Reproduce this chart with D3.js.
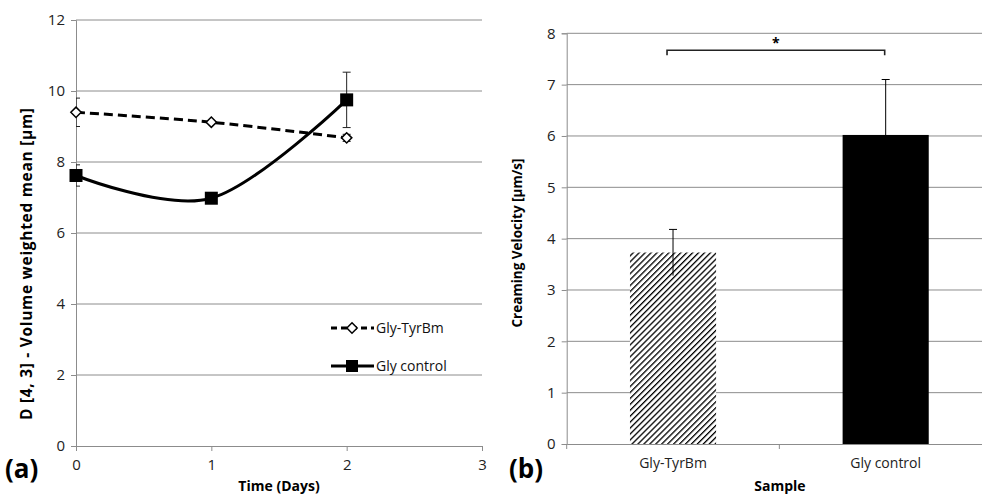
<!DOCTYPE html>
<html>
<head>
<meta charset="utf-8">
<script src="https://cdn.jsdelivr.net/npm/d3@7"></script>
<style>
  body { margin: 0; background: #fff; }
  svg { display: block; font-family: "Open Sans", "Liberation Sans", sans-serif; }
</style>
</head>
<body>
<div id="chart"></div>
<script>
// panel (a) data
const days = [0, 1, 2];
const tyrMean = [9.4, 9.12, 8.68];
const tyrErr = [0.4, 0.03, 0.1];
const ctrlMean = [7.62, 6.98, 9.75];
const ctrlErr = [0.3, 0.03, 0.78];
const aTicksY = [0, 2, 4, 6, 8, 10, 12];
const aTicksX = [0, 1, 2, 3];

// panel (b) data
const samples = ["Gly-TyrBm", "Gly control"];
const velocity = [3.73, 6.02];
const velocityErr = [0.45, 1.08];
const bTicksY = [0, 1, 2, 3, 4, 5, 6, 7, 8];
const sigLevel = 7.67;

const W = 982, H = 494;
const svg = d3.select("#chart").append("svg")
    .attr("width", W).attr("height", H);

const defs = svg.append("defs");
const hatch = defs.append("pattern")
    .attr("id", "hatch")
    .attr("patternUnits", "userSpaceOnUse")
    .attr("width", 4.2).attr("height", 4.2)
    .attr("patternTransform", "rotate(45)");
hatch.append("rect").attr("width", 4.2).attr("height", 4.2).attr("fill", "#fff");
hatch.append("line")
    .attr("x1", 0).attr("y1", 0).attr("x2", 0).attr("y2", 4.2)
    .attr("stroke", "#000").attr("stroke-width", 2.6);

const gridColor = "#8c8c8c";
const tickFont = 15;
const titleFont = 14;

// ---------- panel (a) ----------
const ax = d3.scaleLinear().domain([0, 3]).range([76, 482]);
const ay = d3.scaleLinear().domain([0, 12]).range([446, 20]);

defs.append("clipPath").attr("id", "clipA")
    .append("rect").attr("x", 76).attr("y", 0).attr("width", 420).attr("height", 446);

const a = svg.append("g");

a.append("g").selectAll("line")
    .data(aTicksY.filter(d => d > 0))
    .enter().append("line")
    .attr("x1", ax(0)).attr("x2", ax(3))
    .attr("y1", d => ay(d)).attr("y2", d => ay(d))
    .attr("stroke", gridColor).attr("stroke-width", 1);

const aYAxis = a.append("g")
    .attr("transform", `translate(${ax(0)},0)`)
    .call(d3.axisLeft(ay).tickValues(aTicksY).tickFormat(d3.format("d")).tickSize(5).tickPadding(6));
const aXAxis = a.append("g")
    .attr("transform", `translate(0,${ay(0)})`)
    .call(d3.axisBottom(ax).tickValues(aTicksX).tickFormat(d3.format("d")).tickSize(5).tickPadding(6));

[aYAxis, aXAxis].forEach(g => {
    g.select(".domain").attr("stroke", gridColor);
    g.selectAll(".tick line").attr("stroke", gridColor);
    g.selectAll(".tick text").attr("font-size", tickFont).attr("fill", "#222")
        .attr("font-family", "Open Sans, sans-serif");
});
aXAxis.selectAll(".tick text").attr("dy", "0.85em");

const tyrPts = days.map((d, i) => ({ x: d, y: tyrMean[i], e: tyrErr[i] }));
const ctrlPts = days.map((d, i) => ({ x: d, y: ctrlMean[i], e: ctrlErr[i] }));

const line = d3.line()
    .x(d => ax(d.x)).y(d => ay(d.y))
    .curve(d3.curveCatmullRom.alpha(0));

function errorBars(pts) {
    const g = a.append("g").attr("clip-path", "url(#clipA)");
    const eb = g.selectAll("g").data(pts).enter().append("g");
    eb.append("line")
        .attr("x1", d => ax(d.x)).attr("x2", d => ax(d.x))
        .attr("y1", d => ay(d.y - d.e)).attr("y2", d => ay(d.y + d.e))
        .attr("stroke", "#222").attr("stroke-width", 1);
    [-1, 1].forEach(s => {
        eb.append("line")
            .attr("x1", d => ax(d.x) - 4).attr("x2", d => ax(d.x) + 4)
            .attr("y1", d => ay(d.y + s * d.e)).attr("y2", d => ay(d.y + s * d.e))
            .attr("stroke", "#222").attr("stroke-width", 1);
    });
}
errorBars(tyrPts);
errorBars(ctrlPts);

a.append("path").datum(tyrPts)
    .attr("d", line).attr("fill", "none")
    .attr("stroke", "#000").attr("stroke-width", 3)
    .attr("stroke-dasharray", "9,5");
a.append("path").datum(ctrlPts)
    .attr("d", line).attr("fill", "none")
    .attr("stroke", "#000").attr("stroke-width", 3);

const diamond = d3.symbol().type(d3.symbolDiamond2).size(68);
a.selectAll(".tyr").data(tyrPts).enter().append("path")
    .attr("transform", d => `translate(${ax(d.x)},${ay(d.y)})`)
    .attr("d", diamond)
    .attr("fill", "#fff").attr("stroke", "#000").attr("stroke-width", 1.5);
a.selectAll(".ctrl").data(ctrlPts).enter().append("rect")
    .attr("x", d => ax(d.x) - 6.5).attr("y", d => ay(d.y) - 6.5)
    .attr("width", 13).attr("height", 13).attr("fill", "#000");

// legend
const leg = a.append("g").attr("transform", "translate(331,0)");
leg.append("line").attr("x1", 0).attr("x2", 43).attr("y1", 328).attr("y2", 328)
    .attr("stroke", "#000").attr("stroke-width", 3).attr("stroke-dasharray", "6,4");
leg.append("path").attr("transform", "translate(21,328)").attr("d", diamond)
    .attr("fill", "#fff").attr("stroke", "#000").attr("stroke-width", 1.5);
leg.append("text").attr("x", 45).attr("y", 333).text("Gly-TyrBm")
    .attr("font-size", 14).attr("fill", "#111");
leg.append("line").attr("x1", 0).attr("x2", 43).attr("y1", 366).attr("y2", 366)
    .attr("stroke", "#000").attr("stroke-width", 3);
leg.append("rect").attr("x", 15).attr("y", 360).attr("width", 12).attr("height", 12).attr("fill", "#000");
leg.append("text").attr("x", 45).attr("y", 371).text("Gly control")
    .attr("font-size", 14).attr("fill", "#111");

a.append("text")
    .attr("transform", "translate(32,264) rotate(-90)")
    .attr("text-anchor", "middle")
    .attr("font-size", 15.5).attr("font-weight", "bold")
    .attr("textLength", 312).attr("lengthAdjust", "spacing")
    .text("D [4, 3] - Volume weighted mean [µm]");
a.append("text")
    .attr("x", 279).attr("y", 491)
    .attr("text-anchor", "middle")
    .attr("font-size", titleFont).attr("font-weight", "bold")
    .text("Time (Days)");
a.append("text")
    .attr("x", 5).attr("y", 478)
    .attr("font-size", 26).attr("font-weight", "bold")
    .text("(a)");

// ---------- panel (b) ----------
const bx = d3.scaleBand().domain(samples).range([566.7, 992]).paddingInner(0).paddingOuter(0);
const by = d3.scaleLinear().domain([0, 8]).range([444, 33.3]);
const barW = bx.bandwidth() * 0.405;

const b = svg.append("g");

b.append("g").selectAll("line")
    .data(bTicksY.filter(d => d > 0))
    .enter().append("line")
    .attr("x1", bx.range()[0]).attr("x2", bx.range()[1])
    .attr("y1", d => by(d)).attr("y2", d => by(d))
    .attr("stroke", gridColor).attr("stroke-width", 1);

const bYAxis = b.append("g")
    .attr("transform", `translate(${bx.range()[0]},0)`)
    .call(d3.axisLeft(by).tickValues(bTicksY).tickSize(5).tickPadding(6));
const bXAxis = b.append("g")
    .attr("transform", `translate(0,${by(0)})`)
    .call(d3.axisBottom(bx).tickSize(0).tickPadding(14));
bXAxis.append("g").selectAll("line")
    .data([bx.range()[0], bx(samples[1])])
    .enter().append("line")
    .attr("x1", d => d).attr("x2", d => d).attr("y1", 0).attr("y2", 5)
    .attr("stroke", gridColor);

[bYAxis, bXAxis].forEach(g => {
    g.select(".domain").attr("stroke", gridColor);
    g.selectAll(".tick line").attr("stroke", gridColor);
    g.selectAll(".tick text").attr("font-size", tickFont).attr("fill", "#222")
        .attr("font-family", "Open Sans, sans-serif");
});
bXAxis.selectAll(".tick text").attr("font-size", 14);

const bars = samples.map((s, i) => ({ s, v: velocity[i], e: velocityErr[i] }));
b.selectAll(".bar").data(bars).enter().append("rect")
    .attr("x", d => bx(d.s) + bx.bandwidth() / 2 - barW / 2)
    .attr("y", d => by(d.v))
    .attr("width", barW)
    .attr("height", d => by(0) - by(d.v))
    .attr("fill", (d, i) => i === 0 ? "url(#hatch)" : "#000");

const beb = b.selectAll(".eb").data(bars).enter().append("g");
beb.append("line")
    .attr("x1", d => bx(d.s) + bx.bandwidth() / 2).attr("x2", d => bx(d.s) + bx.bandwidth() / 2)
    .attr("y1", d => by(d.v - d.e)).attr("y2", d => by(d.v + d.e))
    .attr("stroke", "#000").attr("stroke-width", 1);
beb.append("line")
    .attr("x1", d => bx(d.s) + bx.bandwidth() / 2 - 4).attr("x2", d => bx(d.s) + bx.bandwidth() / 2 + 4)
    .attr("y1", d => by(d.v + d.e)).attr("y2", d => by(d.v + d.e))
    .attr("stroke", "#000").attr("stroke-width", 1);

// significance bracket
const sx1 = bx(samples[0]) + bx.bandwidth() / 2 - 6;
const sx2 = bx(samples[1]) + bx.bandwidth() / 2 - 1;
b.append("path")
    .attr("d", `M${sx1},${by(sigLevel) + 5}V${by(sigLevel)}H${sx2}V${by(sigLevel) + 5}`)
    .attr("fill", "none").attr("stroke", "#222").attr("stroke-width", 1.6);
b.append("text")
    .attr("x", (sx1 + sx2) / 2).attr("y", by(sigLevel) - 2)
    .attr("text-anchor", "middle").attr("font-size", 14).attr("font-weight", "bold")
    .text("*");

b.append("text")
    .attr("transform", "translate(522,243) rotate(-90)")
    .attr("text-anchor", "middle")
    .attr("font-size", 13.5).attr("font-weight", "bold")
    .text("Creaming Velocity [µm/s]");
b.append("text")
    .attr("x", 780).attr("y", 491)
    .attr("text-anchor", "middle")
    .attr("font-size", titleFont).attr("font-weight", "bold")
    .text("Sample");
b.append("text")
    .attr("x", 509).attr("y", 478)
    .attr("font-size", 26).attr("font-weight", "bold")
    .text("(b)");
</script>
</body>
</html>
